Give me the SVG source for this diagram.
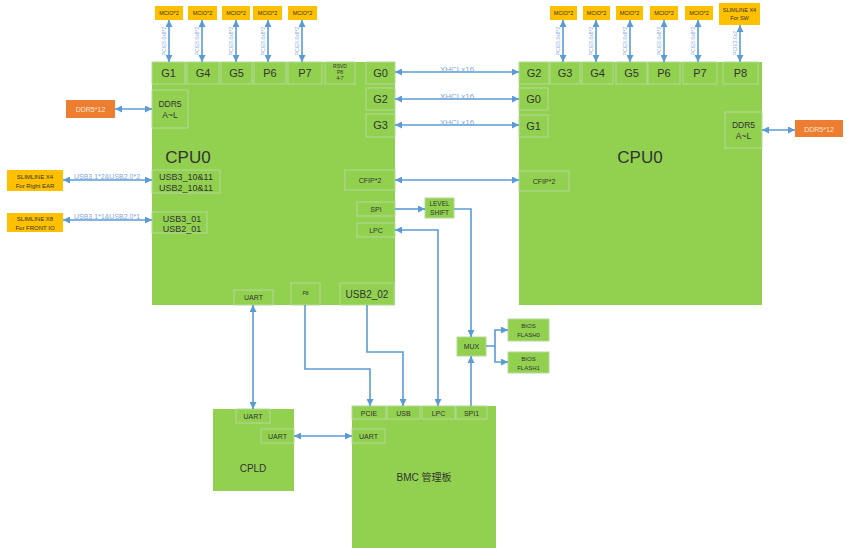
<svg xmlns="http://www.w3.org/2000/svg" width="847" height="548" viewBox="0 0 847 548">
<defs>
<marker id="a" viewBox="0 0 10 10" refX="10" refY="5" markerWidth="7" markerHeight="7" markerUnits="userSpaceOnUse" orient="auto-start-reverse"><path d="M0,0 L10,5 L0,10 z" fill="#5B9BD5"/></marker>
<style>
.blk{fill:#92D050;}
.cell{fill:#92D050;stroke:#B5D99A;stroke-width:1;}
.mc{fill:#FFC000;}
.dd{fill:#ED7D31;}
.t{font-family:"Liberation Sans",Arial,sans-serif;fill:#333;text-anchor:middle;}
.tw{font-family:"Liberation Sans",Arial,sans-serif;fill:#fbe5d6;text-anchor:middle;}
.tb{font-family:"Liberation Sans",Arial,sans-serif;fill:#7FA8DA;text-anchor:middle;}
.c{fill:none;stroke:#5B9BD5;stroke-width:1.6;}
.b{marker-start:url(#a);marker-end:url(#a);}
.e{marker-end:url(#a);}
</style>
</defs>

<g id="cpu0-left">
<rect class="blk" x="152" y="62" width="243" height="243"/>
<text class="t" x="188" y="163" font-size="17">CPU0</text>
<rect class="cell" x="152" y="62" width="33" height="22"/><text class="t" x="168.5" y="77" font-size="11">G1</text>
<rect class="cell" x="187" y="62" width="32" height="22"/><text class="t" x="203" y="77" font-size="11">G4</text>
<rect class="cell" x="221" y="62" width="31" height="22"/><text class="t" x="236.5" y="77" font-size="11">G5</text>
<rect class="cell" x="254" y="62" width="32" height="22"/><text class="t" x="270" y="77" font-size="11">P6</text>
<rect class="cell" x="288" y="62" width="34" height="22"/><text class="t" x="305" y="77" font-size="11">P7</text>
<rect class="cell" x="325" y="62" width="30" height="22"/>
<text class="t" x="340" y="68" font-size="5">RSVD</text><text class="t" x="340" y="74" font-size="5">P8</text><text class="t" x="340" y="80" font-size="5">4-7</text>
<rect class="cell" x="366" y="62" width="29" height="22"/><text class="t" x="380.5" y="77" font-size="11">G0</text>
<rect class="cell" x="366" y="88" width="29" height="22"/><text class="t" x="380.5" y="103" font-size="11">G2</text>
<rect class="cell" x="366" y="114" width="29" height="23"/><text class="t" x="380.5" y="129" font-size="11">G3</text>
<rect class="cell" x="152" y="90" width="36" height="38"/><text class="t" x="170" y="107" font-size="8.5">DDR5</text><text class="t" x="170" y="118" font-size="8.5">A~L</text>
<rect class="cell" x="152" y="170" width="68" height="23"/><text class="t" x="186" y="180" font-size="9">USB3_10&amp;11</text><text class="t" x="186" y="191" font-size="9">USB2_10&amp;11</text>
<rect class="cell" x="152" y="212" width="55" height="21"/><text class="t" x="182" y="222" font-size="9">USB3_01</text><text class="t" x="182" y="232" font-size="9">USB2_01</text>
<rect class="cell" x="345" y="170" width="50" height="20"/><text class="t" x="370" y="183" font-size="7">CFIP*2</text>
<rect class="cell" x="357" y="202" width="38" height="14"/><text class="t" x="376" y="212" font-size="7">SPI</text>
<rect class="cell" x="357" y="223" width="38" height="14"/><text class="t" x="376" y="233" font-size="7">LPC</text>
<rect class="cell" x="234" y="290" width="39" height="15"/><text class="t" x="253.5" y="300" font-size="7">UART</text>
<rect class="cell" x="291" y="283" width="29" height="22"/><text class="t" x="305.5" y="295" font-size="5">P8</text>
<rect class="cell" x="340" y="283" width="54" height="22"/><text class="t" x="367" y="298" font-size="10">USB2_02</text>
</g>

<g id="cpu0-right">
<rect class="blk" x="519" y="62" width="243" height="243"/>
<text class="t" x="640" y="163" font-size="17">CPU0</text>
<rect class="cell" x="519" y="62" width="30" height="22"/><text class="t" x="534" y="77" font-size="11">G2</text>
<rect class="cell" x="550" y="62" width="30" height="22"/><text class="t" x="565" y="77" font-size="11">G3</text>
<rect class="cell" x="582" y="62" width="31" height="22"/><text class="t" x="597.5" y="77" font-size="11">G4</text>
<rect class="cell" x="616" y="62" width="31" height="22"/><text class="t" x="631.5" y="77" font-size="11">G5</text>
<rect class="cell" x="648" y="62" width="32" height="22"/><text class="t" x="664" y="77" font-size="11">P6</text>
<rect class="cell" x="683" y="62" width="34" height="22"/><text class="t" x="700" y="77" font-size="11">P7</text>
<rect class="cell" x="723" y="62" width="35" height="22"/><text class="t" x="740.5" y="77" font-size="11">P8</text>
<rect class="cell" x="519" y="88" width="29" height="22"/><text class="t" x="533.5" y="103" font-size="11">G0</text>
<rect class="cell" x="519" y="115" width="29" height="22"/><text class="t" x="533.5" y="130" font-size="11">G1</text>
<rect class="cell" x="519" y="171" width="50" height="20"/><text class="t" x="544" y="184" font-size="7">CFIP*2</text>
<rect class="cell" x="725" y="112" width="37" height="36"/><text class="t" x="743.5" y="128" font-size="8.5">DDR5</text><text class="t" x="743.5" y="139" font-size="8.5">A~L</text>
</g>

<g id="cpld">
<rect class="blk" x="213" y="409" width="81" height="82"/>
<text class="t" x="253" y="472" font-size="10">CPLD</text>
<rect class="cell" x="236" y="409" width="34" height="14"/><text class="t" x="253" y="419" font-size="7">UART</text>
<rect class="cell" x="261" y="429" width="33" height="14"/><text class="t" x="277.5" y="439" font-size="7">UART</text>
</g>

<g id="bmc">
<rect class="blk" x="352" y="406" width="144" height="146"/>
<text class="t" x="424" y="481" font-size="10" style="font-family:'Liberation Sans','Noto Sans CJK SC',sans-serif">BMC 管理板</text>
<rect class="cell" x="352" y="406" width="34" height="13"/><text class="t" x="369" y="416" font-size="7">PCIE</text>
<rect class="cell" x="387" y="406" width="33" height="13"/><text class="t" x="403.5" y="416" font-size="7">USB</text>
<rect class="cell" x="422" y="406" width="33" height="13"/><text class="t" x="438.5" y="416" font-size="7">LPC</text>
<rect class="cell" x="456" y="406" width="31" height="13"/><text class="t" x="471.5" y="416" font-size="7">SPI1</text>
<rect class="cell" x="352" y="429" width="33" height="14"/><text class="t" x="368.5" y="439" font-size="7">UART</text>
</g>

<g id="level-shift"><rect class="cell" x="425" y="198" width="29" height="20"/><text class="t" x="439.5" y="206" font-size="6.5">LEVEL</text><text class="t" x="439.5" y="215" font-size="6.5">SHIFT</text></g>
<g id="mux"><rect class="cell" x="457" y="337" width="29" height="19"/><text class="t" x="471.5" y="349" font-size="7">MUX</text></g>
<g id="bios0"><rect class="cell" x="508" y="319" width="41" height="22"/><text class="t" x="528.5" y="328" font-size="6">BIOS</text><text class="t" x="528.5" y="337" font-size="6">FLASH0</text></g>
<g id="bios1"><rect class="cell" x="508" y="352" width="41" height="21"/><text class="t" x="528.5" y="361" font-size="6">BIOS</text><text class="t" x="528.5" y="370" font-size="6">FLASH1</text></g>

<g id="mcio-left">
<rect class="mc" x="155" y="6" width="28" height="14"/><text class="t" x="169" y="15" font-size="5.5">MCIO*2</text>
<rect class="mc" x="188" y="6" width="29" height="14"/><text class="t" x="202.5" y="15" font-size="5.5">MCIO*2</text>
<rect class="mc" x="222" y="6" width="28" height="14"/><text class="t" x="236" y="15" font-size="5.5">MCIO*2</text>
<rect class="mc" x="253" y="6" width="29" height="14"/><text class="t" x="267.5" y="15" font-size="5.5">MCIO*2</text>
<rect class="mc" x="288" y="6" width="29" height="14"/><text class="t" x="302.5" y="15" font-size="5.5">MCIO*2</text>
</g>
<g id="mcio-right">
<rect class="mc" x="550" y="6" width="27" height="14"/><text class="t" x="563.5" y="15" font-size="5.5">MCIO*2</text>
<rect class="mc" x="583" y="6" width="27" height="14"/><text class="t" x="596.5" y="15" font-size="5.5">MCIO*2</text>
<rect class="mc" x="616" y="6" width="27" height="14"/><text class="t" x="629.5" y="15" font-size="5.5">MCIO*2</text>
<rect class="mc" x="650" y="6" width="28" height="14"/><text class="t" x="664" y="15" font-size="5.5">MCIO*2</text>
<rect class="mc" x="685" y="6" width="28" height="14"/><text class="t" x="699" y="15" font-size="5.5">MCIO*2</text>
</g>
<g id="slimline-sw"><rect class="mc" x="719" y="3" width="41" height="22"/><text class="t" x="739.5" y="12" font-size="5.5">SLIMLINE X4</text><text class="t" x="739.5" y="20" font-size="5.5">For SW</text></g>
<g id="slimline-ear"><rect class="mc" x="7" y="170" width="56" height="21"/><text class="t" x="35" y="179" font-size="6">SLIMLINE X4</text><text class="t" x="35" y="188" font-size="6">For Right EAR</text></g>
<g id="slimline-front"><rect class="mc" x="7" y="213" width="56" height="19"/><text class="t" x="35" y="221" font-size="6">SLIMLINE X8</text><text class="t" x="35" y="230" font-size="6">For FRONT IO</text></g>
<g id="ddr-left"><rect class="dd" x="66" y="100" width="49" height="18"/><text class="tw" x="90.5" y="112" font-size="7">DDR5*12</text></g>
<g id="ddr-right"><rect class="dd" x="795" y="120" width="48" height="17"/><text class="tw" x="819" y="131.5" font-size="7">DDR5*12</text></g>

<g id="connectors">
<path class="c b" d="M169,20 V62"/><path class="c b" d="M202,20 V62"/><path class="c b" d="M236,20 V62"/><path class="c b" d="M268,20 V62"/><path class="c b" d="M302,20 V62"/>
<path class="c b" d="M563,20 V62"/><path class="c b" d="M596,20 V62"/><path class="c b" d="M630,20 V62"/><path class="c b" d="M664,20 V62"/><path class="c b" d="M698,20 V62"/><path class="c b" d="M740,25 V62"/>
<path class="c b" d="M395,72 H519"/><path class="c b" d="M395,99 H519"/><path class="c b" d="M395,125 H519"/><path class="c b" d="M395,180 H519"/>
<path class="c b" d="M115,109 H152"/><path class="c b" d="M762,130 H795"/>
<path class="c b" d="M63,180 H152"/><path class="c b" d="M63,220 H152"/>
<path class="c e" d="M395,209 H425"/>
<path class="c e" d="M454,209 H471 V337"/>
<path class="c b" d="M438,406 V230 H395"/>
<path class="c e" d="M471,406 V356"/>
<path class="c e" d="M486,346 H495 V330 H508"/>
<path class="c e" d="M495,346 V362 H508"/>
<path class="c b" d="M253,305 V409"/>
<path class="c e" d="M305,305 V369 H370 V406"/>
<path class="c e" d="M367,305 V352 H403 V406"/>
<path class="c b" d="M294,436 H352"/>
<text class="tb" x="457" y="72" font-size="8">XHCLx16</text>
<text class="tb" x="457" y="99" font-size="8">XHCLx16</text>
<text class="tb" x="457" y="125" font-size="8">XHCLx16</text>
<text class="tb" x="107" y="179" font-size="7">USB3.1*2&amp;USB2.0*2</text>
<text class="tb" x="107" y="219" font-size="7">USB3.1*1&amp;USB2.0*1</text>
<g font-size="5">
<text class="tb" transform="translate(166,41) rotate(-90)">PCIE5.0x8*2</text>
<text class="tb" transform="translate(199,41) rotate(-90)">PCIE5.0x8*2</text>
<text class="tb" transform="translate(233,41) rotate(-90)">PCIE5.0x8*2</text>
<text class="tb" transform="translate(265,41) rotate(-90)">PCIE5.0x8*2</text>
<text class="tb" transform="translate(299,41) rotate(-90)">PCIE5.0x8*2</text>
<text class="tb" transform="translate(560,41) rotate(-90)">PCIE5.0x8*2</text>
<text class="tb" transform="translate(593,41) rotate(-90)">PCIE5.0x8*2</text>
<text class="tb" transform="translate(627,41) rotate(-90)">PCIE5.0x8*2</text>
<text class="tb" transform="translate(661,41) rotate(-90)">PCIE5.0x8*2</text>
<text class="tb" transform="translate(695,41) rotate(-90)">PCIE5.0x8*2</text>
<text class="tb" transform="translate(737,43) rotate(-90)">PCIE3.0x2</text>
</g>
</g>
</svg>
